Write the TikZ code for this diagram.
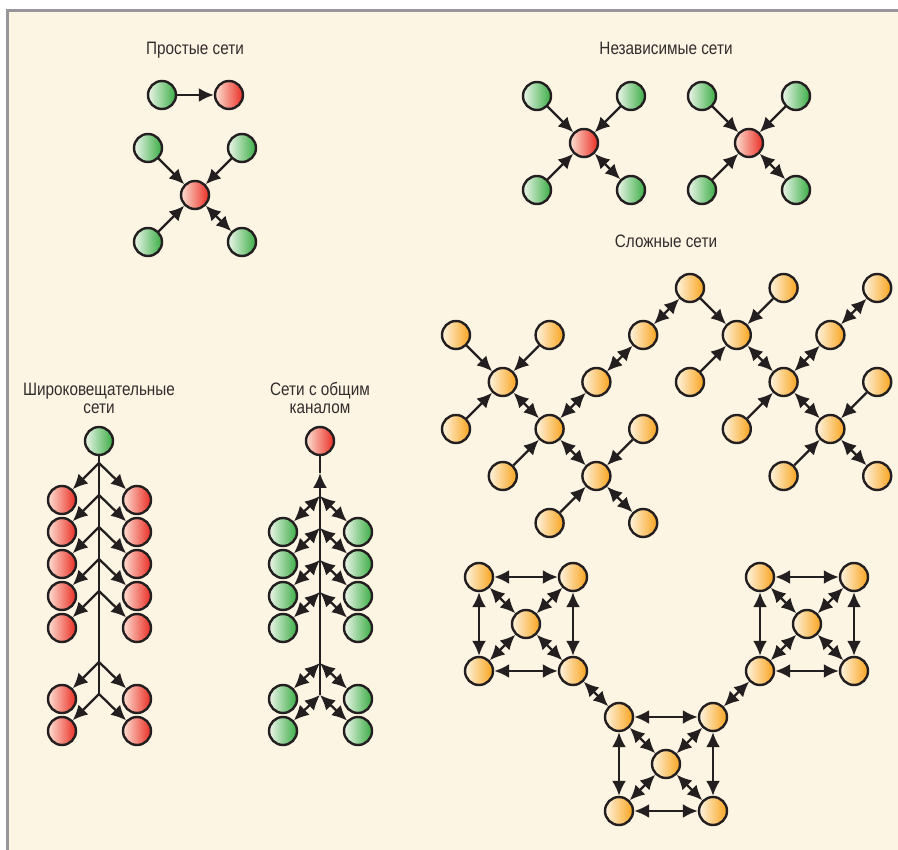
\documentclass[tikz,border=0pt]{standalone}
\usepackage{fontspec}
\setmainfont{Liberation Sans}[FakeStretch=0.85]
\usetikzlibrary{arrows.meta}

\definecolor{ink}{RGB}{35,31,32}
\definecolor{txt}{RGB}{50,45,45}
\definecolor{paper}{RGB}{253,245,228}
\definecolor{frame}{RGB}{150,150,155}
\definecolor{gLight}{RGB}{236,246,234}
\definecolor{gDark}{RGB}{58,172,68}
\definecolor{rLight}{RGB}{253,224,212}
\definecolor{rDark}{RGB}{234,45,35}
\definecolor{oLight}{RGB}{255,244,224}
\definecolor{oDark}{RGB}{248,164,30}

\tikzset{
  dot/.style={circle,draw=ink,line width=2.4pt,minimum size=28pt,inner sep=0pt},
  gdot/.style={dot,left color=gLight,right color=gDark},
  rdot/.style={dot,left color=rLight,right color=rDark},
  odot/.style={dot,left color=oLight,right color=oDark},
  link/.style={draw=ink,line width=2.3pt},
  heading/.style={text=txt,font=\fontsize{18}{18.5}\selectfont,align=center,anchor=base}
}

\begin{document}
\begin{tikzpicture}[x=1pt,y=-1pt,>={Latex[length=15pt,width=14pt]}]

% BACKGROUND

\useasboundingbox (0,0) rectangle (898,850);
\fill[white] (0,0) rectangle (898,850);
\fill[paper] (9,12) rectangle (898,850);
\draw[frame,line width=3pt] (7.5,850) -- (7.5,10.5) -- (898,10.5);

% TITLES

\node[heading] (tSimple) at (195,54.5) {Простые сети};
\node[heading] (tIndep) at (666,54.5) {Независимые сети};
\node[heading] (tComplex) at (666,248) {Сложные сети};
\node[heading] (tBroad) at (99,414) {Широковещательные\\сети};
\node[heading] (tShared) at (320,414) {Сети с общим\\каналом};

% SIMPLE NETWORKS

% Pair.
\node[gdot] (pa) at (162,95) {};
\node[rdot] (pb) at (229,95) {};
\draw[link,->] (pa) -- (pb);

% Star.
\node[rdot] (p0) at (195,195) {};
\node[gdot] (p1) at (148,148) {};
\node[gdot] (p2) at (242,148) {};
\node[gdot] (p3) at (148,242) {};
\node[gdot] (p4) at (242,242) {};
\draw[link,->] (p1) -- (p0);
\draw[link,->] (p2) -- (p0);
\draw[link,->] (p3) -- (p0);
\draw[link,<->] (p4) -- (p0);

% INDEPENDENT NETWORKS

\foreach \k/\cx in {1/584,2/749} {
  \node[rdot] (i\k0) at (\cx,143) {};
  \node[gdot] (i\k1) at ({\cx-47},96) {};
  \node[gdot] (i\k2) at ({\cx+47},96) {};
  \node[gdot] (i\k3) at ({\cx-47},190) {};
  \node[gdot] (i\k4) at ({\cx+47},190) {};
  \draw[link,->] (i\k1) -- (i\k0);
  \draw[link,->] (i\k2) -- (i\k0);
  \draw[link,->] (i\k3) -- (i\k0);
  \draw[link,<->] (i\k4) -- (i\k0);
}

% BROADCAST NETWORKS

\node[gdot] (b0) at (99,441) {};
\foreach \y [count=\k] in {500,532,564,596,628,699,731} {
  \node[rdot] (bl\k) at (62,\y) {};
  \node[rdot] (br\k) at (137,\y) {};
  \coordinate (bt\k) at (99,{\y-37});
  \draw[link,->] (bt\k) -- (bl\k);
  \draw[link,->] (bt\k) -- (br\k);
}
\draw[link] (b0) -- (bt7);

% SHARED CHANNEL NETWORKS

\node[rdot] (c0) at (320,441) {};
\foreach \y [count=\k] in {532,564,596,628,699,731} {
  \node[gdot] (cl\k) at (283,\y) {};
  \node[gdot] (cr\k) at (358,\y) {};
  \coordinate (ct\k) at (320,{\y-36});
  \draw[link,<->] (ct\k) -- (cl\k);
  \draw[link,<->] (ct\k) -- (cr\k);
}
\coordinate (ctip) at (320,473);
\draw[link,->] (ct6) -- (ctip);
\draw[link] (ctip) -- (c0);

% COMPLEX NETWORKS

% Tree on a diagonal grid.
\foreach \i/\j in {5/0,7/0,9/0,0/1,2/1,4/1,6/1,8/1,1/2,3/2,5/2,7/2,9/2,
                   0/3,2/3,4/3,6/3,8/3,1/4,3/4,7/4,9/4,2/5,4/5}
  \node[odot] (n\i\j) at ({456+46.8*\i},{288+47*\j}) {};
\foreach \a/\b in {01/12,21/12,03/12,50/61,70/61,52/61,63/72,92/83,74/83,
                   14/23,43/34,25/34}
  \draw[link,->] (n\a) -- (n\b);
\foreach \a/\b in {12/23,23/32,32/41,41/50,61/72,72/81,81/90,72/83,83/94,
                   23/34,34/45}
  \draw[link,<->] (n\a) -- (n\b);

% Meshes.
\foreach \q/\cx/\cy in {w/526/624,e/807/624,s/666/764} {
  \node[odot] (\q0) at (\cx,\cy) {};
  \node[odot] (\q1) at ({\cx-47},{\cy-47}) {};
  \node[odot] (\q2) at ({\cx+47},{\cy-47}) {};
  \node[odot] (\q3) at ({\cx-47},{\cy+47}) {};
  \node[odot] (\q4) at ({\cx+47},{\cy+47}) {};
  \draw[link,<->] (\q1) -- (\q2);
  \draw[link,<->] (\q3) -- (\q4);
  \draw[link,<->] (\q1) -- (\q3);
  \draw[link,<->] (\q2) -- (\q4);
  \draw[link,<->] (\q0) -- (\q1);
  \draw[link,<->] (\q0) -- (\q2);
  \draw[link,<->] (\q0) -- (\q3);
  \draw[link,<->] (\q0) -- (\q4);
}
\draw[link,<->] (w4) -- (s1);
\draw[link,<->] (e3) -- (s2);

\end{tikzpicture}
\end{document}
